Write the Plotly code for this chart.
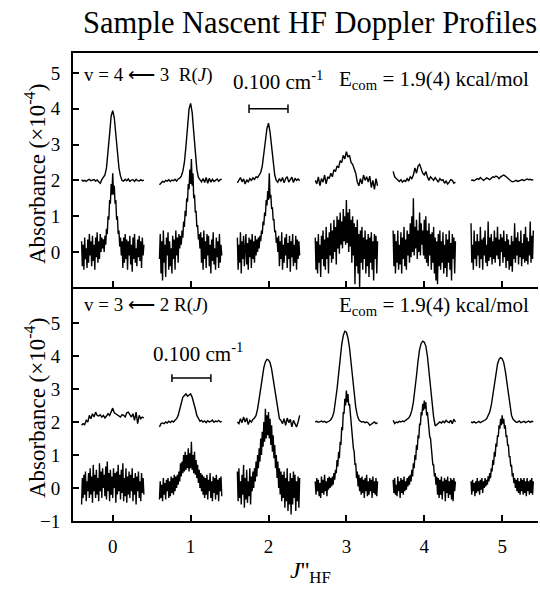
import plotly.graph_objects as go
from plotly.subplots import make_subplots

# ---------------- data ----------------
J_VALUES = [0, 1, 2, 3, 4, 5]
X_TICK_LABELS = ["0", "1", "2", "3", "4", "5"]
TOP_Y_TICKS = [0, 1, 2, 3, 4, 5]
BOTTOM_Y_TICKS = [-1, 0, 1, 2, 3, 4, 5]

# sample offsets (in J units) of each profile around its J position
DX_UPPER = [-0.40, -0.38, -0.36, -0.34, -0.32, -0.30, -0.28, -0.26, -0.24, -0.22,
            -0.20, -0.18, -0.16, -0.14, -0.12, -0.10, -0.08, -0.06, -0.04, -0.02,
            0.00, 0.02, 0.04, 0.06, 0.08, 0.10, 0.12, 0.14, 0.16, 0.18,
            0.20, 0.22, 0.24, 0.26, 0.28, 0.30, 0.32, 0.34, 0.36, 0.38, 0.40]
DX_LOWER = [-0.40, -0.39, -0.38, -0.37, -0.36, -0.35, -0.34, -0.33, -0.32, -0.31,
            -0.30, -0.29, -0.28, -0.27, -0.26, -0.25, -0.24, -0.23, -0.22, -0.21,
            -0.20, -0.19, -0.18, -0.17, -0.16, -0.15, -0.14, -0.13, -0.12, -0.11,
            -0.10, -0.09, -0.08, -0.07, -0.06, -0.05, -0.04, -0.03, -0.02, -0.01,
            0.00, 0.01, 0.02, 0.03, 0.04, 0.05, 0.06, 0.07, 0.08, 0.09,
            0.10, 0.11, 0.12, 0.13, 0.14, 0.15, 0.16, 0.17, 0.18, 0.19,
            0.20, 0.21, 0.22, 0.23, 0.24, 0.25, 0.26, 0.27, 0.28, 0.29,
            0.30, 0.31, 0.32, 0.33, 0.34, 0.35, 0.36, 0.37, 0.38, 0.39, 0.40]

# ---- v = 4 <- 3, upper (averaged) traces, offset +2 ----
v43_up_j0 = [2.02, 1.98, 2.00, 1.97, 2.01, 2.03, 1.99, 2.00, 2.02, 1.98, 2.01, 1.96, 1.92, 2.02,
             2.08, 2.15, 2.35, 2.75, 3.30, 3.80, 3.95, 3.75, 3.25, 2.75, 2.35, 2.12, 2.00, 1.98,
             2.03, 1.99, 2.04, 1.97, 2.01, 2.02, 1.97, 2.03, 1.99, 1.98, 2.02, 1.99, 2.01]
v43_up_j1 = [1.88, 1.93, 1.97, 1.95, 2.00, 1.98, 2.02, 1.97, 2.01, 1.99, 2.03, 1.98, 2.04, 2.06,
             2.12, 2.25, 2.50, 2.95, 3.50, 4.00, 4.15, 3.90, 3.35, 2.75, 2.30, 2.08, 2.02, 1.96,
             2.05, 1.94, 2.08, 1.92, 2.06, 1.95, 2.03, 1.97, 2.00, 2.04, 1.98, 2.02, 2.03]
v43_up_j2 = [1.93, 2.00, 2.08, 1.96, 2.04, 1.90, 2.02, 1.95, 2.05, 2.00, 2.07, 2.03, 2.10, 2.08,
             2.15, 2.22, 2.40, 2.70, 3.10, 3.45, 3.60, 3.35, 2.90, 2.45, 2.15, 2.00, 1.95, 2.05,
             1.97, 2.08, 1.93, 2.05, 2.10, 1.95, 2.03, 2.09, 1.94, 2.06, 2.00, 2.04, 1.99]
v43_up_j3 = [2.00, 1.90, 2.10, 1.85, 2.05, 1.95, 2.15, 1.90, 2.10, 2.05, 2.20, 2.10, 2.30, 2.25,
             2.40, 2.35, 2.55, 2.50, 2.70, 2.60, 2.80, 2.65, 2.70, 2.50, 2.45, 2.30, 2.20, 1.95,
             1.85, 2.05, 1.90, 2.15, 2.00, 2.10, 1.95, 2.12, 1.80, 2.00, 1.75, 2.05, 1.85]
v43_up_j4 = [2.25, 2.10, 2.05, 2.00, 1.97, 2.02, 1.95, 2.00, 1.97, 2.05, 1.98, 2.10, 2.05, 2.15,
             2.35, 2.20, 2.40, 2.45, 2.30, 2.20, 2.15, 2.25, 2.10, 2.00, 2.10, 2.05, 2.00, 2.08,
             2.02, 1.95, 2.05, 2.00, 2.02, 1.92, 1.98, 1.90, 1.95, 2.02, 2.00, 1.92, 1.95]
v43_up_j5 = [2.00, 2.01, 1.99, 2.02, 2.05, 2.03, 2.08, 2.04, 2.00, 2.03, 2.07, 2.05, 2.02, 2.06,
             2.10, 2.08, 2.12, 2.10, 2.05, 2.10, 2.13, 2.15, 2.12, 2.08, 2.05, 2.00, 1.97, 1.96,
             1.98, 2.00, 1.97, 1.98, 2.00, 2.02, 1.99, 2.01, 2.04, 2.02, 2.03, 2.01, 2.02]

# ---- v = 4 <- 3, lower (single-scan) traces, offset 0 ----
v43_lo_j0 = [0.3, -0.4, 0.2, -0.5, 0.4, -0.2, 0.1, -0.45, 0.35, -0.3, 0.5, -0.1, 0.3, -0.4,
             0.45, -0.25, 0.2, -0.5, 0.4, -0.15, 0.55, -0.3, 0.3, -0.2, 0.5, 0.0, 0.4, 0.1,
             0.35, 0.0, 0.45, 0.2, 0.65, 0.5, 1.0, 0.9, 1.45, 1.35, 1.9, 1.6, 2.2, 1.6, 1.85,
             1.35, 1.45, 0.9, 1.0, 0.5, 0.6, 0.15, 0.4, -0.1, 0.3,
             -0.45, 0.4, -0.3, 0.5, -0.2, 0.35, -0.5, 0.3, -0.1, 0.45, -0.35, 0.2, -0.55, 0.4,
             -0.2, 0.5, -0.3, 0.1, -0.4, 0.35, -0.15, 0.45, -0.25, 0.3, -0.45, 0.4, -0.1, 0.2]
v43_lo_j1 = [-0.2, 0.5, -0.6, 0.3, -0.8, 0.6, -0.3, 0.2, -0.7, 0.4, -0.1, 0.55, -0.5, 0.3,
             -0.4, 0.1, -0.6, 0.45, -0.2, 0.35, -0.5, 0.6, -0.1, 0.4, -0.3, 0.5, 0.1, 0.45,
             0.2, 0.6, 0.4, 0.85, 0.7, 1.15, 1.0, 1.5, 1.4, 1.9, 1.75, 2.3, 1.9, 2.6, 1.85,
             2.2, 1.5, 1.6, 1.1, 1.15, 0.7, 0.75, 0.35, 0.5, 0.1,
             0.55, -0.3, 0.4, -0.5, 0.6, -0.2, 0.3, -0.45, 0.5, -0.1, 0.45, -0.4, 0.2, -0.6,
             0.35, -0.25, 0.55, -0.35, 0.1, -0.5, 0.4, -0.15, 0.3, -0.45, 0.5, -0.3, 0.2, -0.1]
v43_lo_j2 = [0.4, -0.5, 0.2, -0.3, 0.55, -0.6, 0.3, -0.2, 0.45, -0.4, 0.1, 0.5, -0.35, 0.25,
             -0.5, 0.4, -0.15, 0.35, -0.45, 0.5, -0.2, 0.3, -0.3, 0.45, -0.1, 0.35, 0.0, 0.4,
             0.1, 0.45, 0.3, 0.6, 0.5, 0.85, 0.75, 1.1, 1.0, 1.45, 1.3, 1.7, 1.45, 2.2, 1.5,
             1.6, 1.2, 1.25, 0.9, 0.9, 0.55, 0.6, 0.25, 0.4, 0.0,
             0.45, -0.4, 0.3, -0.2, 0.55, -0.5, 0.2, -0.3, 0.4, -0.1, 0.5, -0.45, 0.25, -0.2,
             0.45, -0.55, 0.3, -0.15, 0.5, -0.4, 0.2, -0.3, 0.45, -0.5, 0.35, -0.2, 0.3, -0.1]
v43_lo_j3 = [0.4, -0.5, 0.3, -0.6, 0.5, -0.3, 0.2, -0.7, 0.45, -0.2,
             0.6, -0.4, 0.35, -0.5, 0.7, -0.2, 0.4, -0.6, 0.55, -0.1,
             0.8, -0.3, 0.6, -0.2, 0.9, 0.0, 0.7, -0.35, 1.0, 0.1,
             0.9, -0.05, 1.1, 0.2, 0.85, 0.1, 1.2, 0.3, 1.0, 0.2,
             1.45, 0.25, 1.1, 0.0, 1.2, 0.15, 0.9, -0.3, 1.0, -0.1,
             0.8, -0.9, 0.7, -0.4, 0.9, -0.6, 0.5, -1.0, 0.6, -0.3,
             0.7, -0.5, 0.4, -0.2, 0.6, -0.6, 0.35, -0.4, 0.5, -0.7,
             0.4, -0.3, 0.55, -0.5, 0.3, -0.8, 0.5, -0.2, 0.45, -0.6, 0.3]
v43_lo_j4 = [0.6, -0.4, 0.5, -0.6, 0.3, -0.3, 0.6, -0.5, 0.2, -0.35,
             0.55, -0.6, 0.4, -0.2, 0.7, -0.4, 0.35, -0.5, 0.6, -0.1,
             0.5, -0.3, 0.8, -0.15, 1.0, 0.0, 1.5, -0.1, 0.7, 0.1,
             0.9, -0.2, 0.6, 0.0, 1.1, -0.1, 0.8, 0.2, 0.6, -0.1,
             0.9, -0.2, 1.0, -0.3, 0.6, -0.4, 0.8, -0.1, 0.5, -0.5,
             0.55, -0.3, 0.7, -0.6, 0.4, -0.8, 0.3, -0.9, 0.5, -0.4,
             0.6, -0.5, 0.3, -0.3, 0.55, -0.6, 0.2, -0.45, 0.5, -0.7,
             0.35, -0.3, 0.6, -0.5, 0.25, -0.8, 0.5, -0.2, 0.4, -0.6, 0.3]
v43_lo_j5 = [0.8, -0.3, 0.2, -0.5, 0.6, -0.2, 0.3, -0.4, 0.5, -0.1,
             0.3, -0.45, 0.7, -0.2, 0.35, -0.5, 0.4, -0.1, 0.6, -0.3,
             0.2, -0.4, 0.85, -0.25, 0.4, -0.15, 0.5, -0.35, 0.3, -0.2,
             0.6, -0.3, 0.4, -0.1, 0.7, -0.2, 0.35, -0.4, 0.5, 0.0,
             0.4, -0.3, 0.6, -0.15, 0.3, -0.45, 0.5, -0.25, 0.35, -0.5,
             0.2, -0.4, 0.45, -0.55, 0.3, -0.2, 0.8, -0.3, 0.4, -0.1,
             0.55, -0.35, 0.3, -0.15, 0.6, -0.4, 0.25, -0.2, 0.5, -0.3,
             0.7, -0.25, 0.4, -0.35, 0.3, -0.1, 0.85, -0.3, 0.45, -0.2, 0.6]

# ---- v = 3 <- 2, upper (averaged) traces, offset +2 ----
v32_up_j0 = [1.90, 1.95, 1.92, 2.05, 2.00, 2.20, 2.10, 2.25, 2.15, 2.30,
             2.20, 2.18, 2.22, 2.15, 2.20, 2.12, 2.18, 2.25, 2.20, 2.30,
             2.42, 2.28, 2.25, 2.20, 2.18, 2.15, 2.22, 2.20, 2.15, 2.28,
             2.30, 2.22, 2.15, 2.25, 2.05, 2.30, 1.95, 2.20, 2.10, 2.15, 2.12]
v32_up_j1 = [1.85, 1.95, 1.97, 1.95, 2.00, 1.97, 2.02, 1.98, 2.03, 2.00,
             2.05, 2.10, 2.20, 2.40, 2.60, 2.75, 2.80, 2.85, 2.78, 2.82,
             2.85, 2.75, 2.60, 2.40, 2.20, 2.08, 2.02, 2.05, 2.00, 2.03,
             1.98, 2.04, 2.00, 2.02, 2.06, 1.99, 2.03, 2.01, 2.05, 2.00, 2.02]
v32_up_j2 = [2.00, 1.95, 2.10, 1.98, 2.15, 2.00, 2.12, 1.92, 2.05, 2.00,
             2.08, 2.12, 2.20, 2.40, 2.70, 3.05, 3.40, 3.65, 3.82, 3.90,
             3.88, 3.80, 3.60, 3.30, 2.95, 2.60, 2.30, 2.10, 2.05, 1.95,
             2.10, 1.90, 2.12, 1.98, 2.08, 1.85, 2.05, 1.92, 1.85, 2.00, 2.20]
v32_up_j3 = [2.00, 2.02, 1.99, 2.01, 2.03, 2.00, 2.02, 1.98, 2.00, 2.03,
             2.07, 2.15, 2.30, 2.60, 3.00, 3.45, 3.95, 4.35, 4.62, 4.75,
             4.72, 4.55, 4.25, 3.80, 3.30, 2.85, 2.45, 2.20, 2.07, 2.02,
             2.00, 2.01, 1.98, 2.00, 1.97, 1.90, 1.93, 1.98, 2.00, 1.95, 1.98]
v32_up_j4 = [2.05, 1.95, 2.00, 1.98, 2.02, 2.00, 2.03, 2.01, 2.05, 2.08,
             2.12, 2.20, 2.35, 2.60, 2.95, 3.40, 3.85, 4.20, 4.38, 4.45,
             4.42, 4.30, 4.00, 3.55, 3.05, 2.55, 2.15, 1.88, 1.92, 1.95,
             2.00, 1.97, 2.02, 1.98, 2.05, 2.00, 1.98, 2.05, 1.95, 2.08, 2.00]
v32_up_j5 = [2.00, 1.98, 2.01, 1.97, 1.99, 2.02, 1.98, 2.00, 2.03, 2.06,
             2.10, 2.18, 2.30, 2.50, 2.80, 3.15, 3.50, 3.75, 3.90, 3.95,
             3.92, 3.80, 3.55, 3.20, 2.80, 2.45, 2.20, 2.08, 2.02, 1.99,
             2.00, 2.03, 1.98, 2.00, 2.02, 1.98, 2.01, 2.03, 1.99, 2.02, 2.01]

# ---- v = 3 <- 2, lower (single-scan) traces, offset 0 ----
v32_lo_j0 = [-0.5, 0.3, -0.3, 0.4, -0.2, 0.5, -0.4, 0.2, -0.1, 0.45,
             -0.3, 0.6, -0.2, 0.35, -0.45, 0.7, -0.1, 0.4, -0.3, 0.55,
             -0.2, 0.3, -0.4, 0.75, -0.1, 0.5, -0.3, 0.6, 0.0, 0.4,
             -0.25, 0.65, -0.35, 0.8, -0.1, 0.45, -0.4, 0.55, -0.2, 0.35,
             -0.3, 0.6, 0.0, 0.45, -0.45, 0.5, -0.2, 0.7, -0.1, 0.4,
             -0.35, 0.55, -0.15, 0.75, -0.4, 0.3, -0.25, 0.6, -0.45, 0.35,
             -0.2, 0.5, -0.3, 0.4, -0.1, 0.6, -0.4, 0.3, -0.2, 0.45,
             -0.5, 0.35, -0.1, 0.5, -0.3, 0.2, -0.4, 0.45, -0.15, 0.3, -0.2]
v32_lo_j1 = [-0.35, 0.2, -0.3, 0.1, -0.4, 0.3, -0.2, 0.15, -0.35, 0.25,
             -0.1, 0.3, -0.3, 0.2, -0.25, 0.35, -0.15, 0.3, -0.2, 0.4,
             -0.1, 0.35, 0.0, 0.4, 0.1, 0.5, 0.2, 0.75, 0.35, 0.8,
             0.45, 1.0, 0.5, 1.1, 0.55, 1.0, 0.6, 1.2, 0.5, 1.05,
             0.6, 1.4, 0.55, 1.0, 0.45, 1.1, 0.4, 0.85, 0.3, 0.7,
             0.15, 0.55, 0.0, 0.45, -0.1, 0.4, -0.2, 0.35, -0.3, 0.3,
             -0.2, 0.4, -0.35, 0.25, -0.1, 0.45, -0.3, 0.2, -0.4, 0.35,
             -0.15, 0.3, -0.35, 0.4, -0.2, 0.25, -0.4, 0.3, -0.1, 0.35, -0.25]
v32_lo_j2 = [0.5, -0.4, 0.6, -0.3, 0.2, -0.5, 0.4, -0.2, 0.7, -0.6,
             0.3, -0.35, 0.55, -0.45, 0.2, -0.25, 0.6, -0.5, 0.35, -0.1,
             0.5, 0.0, 0.6, 0.2, 0.8, 0.35, 1.0, 0.6, 1.2, 0.8,
             1.5, 1.0, 1.7, 1.25, 2.0, 1.4, 2.4, 1.5, 2.2, 1.6,
             2.3, 1.5, 2.1, 1.3, 1.9, 1.1, 1.6, 0.9, 1.3, 0.6,
             1.0, 0.3, 0.8, 0.0, 0.6, -0.2, 0.5, -0.4, 0.4, -0.3,
             0.5, -0.6, 0.3, -0.4, 0.6, -0.7, 0.2, -0.5, 0.45, -0.8,
             0.3, -0.5, 0.5, -0.3, 0.4, -0.7, 0.2, -0.4, 0.35, -0.6, 0.3]
v32_lo_j3 = [0.2, -0.2, 0.3, -0.1, 0.25, -0.25, 0.15, -0.3, 0.35, -0.15,
             0.25, -0.2, 0.4, -0.1, 0.2, -0.25, 0.3, -0.05, 0.35, 0.0,
             0.3, 0.05, 0.35, 0.1, 0.45, 0.25, 0.55, 0.45, 0.85, 0.65,
             1.1, 0.9, 1.4, 1.3, 1.85, 1.75, 2.3, 2.25, 2.7, 2.5,
             2.95, 2.6, 2.85, 2.5, 2.55, 2.25, 2.1, 1.8, 1.6, 1.2,
             1.1, 0.7, 0.75, 0.3, 0.5, 0.05, 0.4, -0.1, 0.3, -0.2,
             0.35, -0.15, 0.25, -0.3, 0.3, -0.1, 0.4, -0.25, 0.2, -0.2,
             0.3, -0.1, 0.25, -0.3, 0.35, -0.15, 0.2, -0.2, 0.3, -0.25, 0.2]
v32_lo_j4 = [0.25, -0.15, 0.3, -0.2, 0.1, -0.25, 0.35, -0.1, 0.2, -0.3,
             0.3, -0.15, 0.25, -0.2, 0.35, -0.1, 0.2, -0.05, 0.3, 0.05,
             0.35, 0.1, 0.4, 0.2, 0.55, 0.35, 0.75, 0.6, 1.0, 0.85,
             1.3, 1.15, 1.6, 1.5, 1.95, 1.9, 2.3, 2.2, 2.55, 2.35,
             2.65, 2.4, 2.6, 2.2, 2.3, 1.95, 1.9, 1.55, 1.5, 1.15,
             1.05, 0.7, 0.7, 0.35, 0.45, 0.1, 0.35, -0.2, 0.3, -0.3,
             0.25, -0.2, 0.35, -0.35, 0.2, -0.1, 0.3, -0.4, 0.25, -0.15,
             0.35, -0.3, 0.2, -0.2, 0.3, -0.35, 0.25, -0.4, 0.3, -0.1, 0.2]
v32_lo_j5 = [0.2, -0.2, 0.25, -0.1, 0.15, -0.25, 0.2, -0.15, 0.3, -0.1,
             0.2, -0.2, 0.25, -0.05, 0.3, -0.15, 0.2, 0.0, 0.3, 0.05,
             0.25, 0.1, 0.35, 0.2, 0.45, 0.3, 0.6, 0.5, 0.85, 0.7,
             1.1, 0.95, 1.35, 1.25, 1.6, 1.55, 1.9, 1.8, 2.1, 1.9,
             2.2, 1.95, 2.1, 1.8, 1.9, 1.55, 1.6, 1.3, 1.3, 0.95,
             0.95, 0.65, 0.7, 0.35, 0.45, 0.15, 0.3, 0.0, 0.25, -0.1,
             0.3, -0.15, 0.2, -0.2, 0.3, -0.1, 0.25, -0.2, 0.3, -0.15,
             0.2, -0.25, 0.3, -0.1, 0.2, -0.2, 0.25, -0.15, 0.3, -0.2, 0.2]

V43_UPPER = [v43_up_j0, v43_up_j1, v43_up_j2, v43_up_j3, v43_up_j4, v43_up_j5]
V43_LOWER = [v43_lo_j0, v43_lo_j1, v43_lo_j2, v43_lo_j3, v43_lo_j4, v43_lo_j5]
V32_UPPER = [v32_up_j0, v32_up_j1, v32_up_j2, v32_up_j3, v32_up_j4, v32_up_j5]
V32_LOWER = [v32_lo_j0, v32_lo_j1, v32_lo_j2, v32_lo_j3, v32_lo_j4, v32_lo_j5]

for s in V43_UPPER + V32_UPPER:
    assert len(s) == len(DX_UPPER), len(s)
for s in V43_LOWER + V32_LOWER:
    assert len(s) == len(DX_LOWER), len(s)

SCALE_BAR_WIDTH = 0.5          # J-axis length equal to 0.100 cm^-1
TOP_BAR_START, TOP_BAR_Y = 1.75, 4.0
BOT_BAR_START, BOT_BAR_Y = 0.76, 3.33

# ---------------- figure ----------------
FONT = "Liberation Serif, Times New Roman, serif"
W, H = 540, 589
ML, MR, MT, MB = 73, 2, 53, 68
PW, PH = W - ML - MR, H - MT - MB


def px(xp):
    return (xp - ML) / PW


def py(yp):
    return (H - MB - yp) / PH


fig = make_subplots(rows=2, cols=1, shared_xaxes=True, vertical_spacing=0)

for row, uppers, lowers in [(1, V43_UPPER, V43_LOWER), (2, V32_UPPER, V32_LOWER)]:
    for j, up, lo in zip(J_VALUES, uppers, lowers):
        fig.add_trace(go.Scatter(x=[j + d for d in DX_LOWER], y=lo, mode="lines",
                                 line=dict(color="black", width=1.4),
                                 showlegend=False, hoverinfo="skip"), row=row, col=1)
        fig.add_trace(go.Scatter(x=[j + d for d in DX_UPPER], y=up, mode="lines",
                                 line=dict(color="black", width=1.4),
                                 showlegend=False, hoverinfo="skip"), row=row, col=1)

axis_common = dict(showgrid=False, zeroline=False, showline=True, linecolor="black",
                   linewidth=2, ticks="inside", ticklen=6, tickwidth=1.5, tickcolor="black",
                   ticklabelstandoff=7,
                   tickfont=dict(family=FONT, size=19, color="black"))

fig.update_xaxes(range=[-0.51, 5.46], tickvals=J_VALUES, ticktext=X_TICK_LABELS,
                 **axis_common)
fig.update_xaxes(mirror=True, showticklabels=False, row=1, col=1)
fig.update_xaxes(showticklabels=True, row=2, col=1)
fig.update_yaxes(**axis_common)
fig.update_yaxes(range=[-0.98, 5.56], tickvals=TOP_Y_TICKS, row=1, col=1)
fig.update_yaxes(range=[-1.0, 6.09], tickvals=BOTTOM_Y_TICKS, row=2, col=1)

# scale bars
cap = 0.12
for xr, yr, x0, y0 in [("x", "y", TOP_BAR_START, TOP_BAR_Y), ("x2", "y2", BOT_BAR_START, BOT_BAR_Y)]:
    x1 = x0 + SCALE_BAR_WIDTH
    ln = dict(color="black", width=1.5)
    fig.add_shape(type="line", xref=xr, yref=yr, x0=x0, x1=x1, y0=y0, y1=y0, line=ln)
    fig.add_shape(type="line", xref=xr, yref=yr, x0=x0, x1=x0, y0=y0 - cap, y1=y0 + cap, line=ln)
    fig.add_shape(type="line", xref=xr, yref=yr, x0=x1, x1=x1, y0=y0 - cap, y1=y0 + cap, line=ln)

small = dict(family=FONT, size=19, color="black")
big = dict(family=FONT, size=21, color="black")
annotations = [
    dict(text="v = 4 \u27f5 3  R(<i>J</i>)", x=px(82), y=py(75), xanchor="left", font=small),
    dict(text="0.100 cm<sup>-1</sup>", x=px(278), y=py(80), xanchor="center", font=big),
    dict(text="E<sub>com</sub> = 1.9(4) kcal/mol", x=px(531), y=py(80), xanchor="right", font=big),
    dict(text="v = 3 \u27f5 2 R(<i>J</i>)", x=px(82), y=py(305), xanchor="left", font=small),
    dict(text="E<sub>com</sub> = 1.9(4) kcal/mol", x=px(531), y=py(306), xanchor="right", font=big),
    dict(text="0.100 cm<sup>-1</sup>", x=px(198), y=py(352), xanchor="center", font=big),
]
for a in annotations:
    fig.add_annotation(xref="paper", yref="paper", yanchor="middle", showarrow=False, **a)

for yc in (174, 408):
    fig.add_annotation(text="Absorbance (\u00d710<sup>-4</sup>)", xref="paper", yref="paper",
                       x=px(35), y=py(yc), textangle=-90, showarrow=False,
                       xanchor="center", yanchor="middle",
                       font=dict(family=FONT, size=23, color="black"))

fig.add_annotation(text="<i>J</i>''<sub>HF</sub>", xref="paper", yref="paper",
                   x=px(310), y=py(572), showarrow=False, xanchor="center", yanchor="middle",
                   font=dict(family=FONT, size=24, color="black"))

fig.update_layout(
    width=W, height=H,
    margin=dict(l=ML, r=MR, t=MT, b=MB),
    paper_bgcolor="white", plot_bgcolor="white",
    title=dict(text="Sample Nascent HF Doppler Profiles", x=310 / W, xanchor="center",
               y=1 - 22 / H, yanchor="middle",
               font=dict(family=FONT, size=30.5, color="black")),
    showlegend=False,
)

fig.write_html("out.html", config={"displayModeBar": False},
               post_script="document.body.style.margin='0px';")
